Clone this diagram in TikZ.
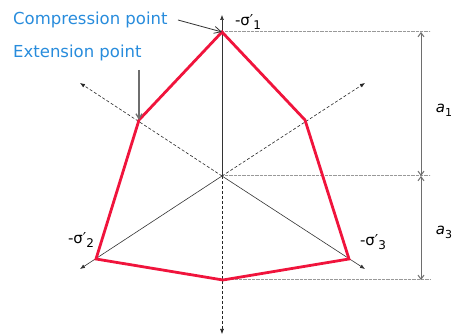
\documentclass[tikz,border=0pt]{standalone}
\usepackage{fontspec}
\setmainfont{DejaVu Sans}
\usetikzlibrary{arrows.meta}
\definecolor{polyred}{RGB}{240,20,60}
\definecolor{callblue}{RGB}{40,140,220}
\definecolor{dimgray}{RGB}{110,110,110}
\begin{document}
\begin{tikzpicture}[x=1pt,y=-1pt,
  polyline/.style={draw=polyred,line width=2.8pt,line join=miter},
  axisline/.style={draw=black!80,line width=0.6pt,-{Latex[length=5pt,width=4pt]}},
  dashaxis/.style={draw=black!85,line width=0.6pt,dashed,dash pattern=on 3pt off 2pt,-{Latex[length=5pt,width=4pt]}},
  dotline/.style={draw=gray!80,line width=1pt,dash pattern=on 0.8pt off 0.5pt},
  dimline/.style={draw=dimgray,line width=1pt,{Straight Barb[length=4pt,width=6pt]}-{Straight Barb[length=4pt,width=6pt]}},
  callarrow/.style={draw=black!80,line width=0.8pt,-{Straight Barb[length=7pt,width=7pt,line width=0.8pt]}},
  extarrow/.style={draw=dimgray,line width=1.3pt,-{Straight Barb[length=5pt,width=6pt]}},
  calltext/.style={text=callblue,font=\fontsize{16.5}{19}\selectfont,anchor=west,inner sep=0pt},
  sigtext/.style={font=\fontsize{15}{17}\selectfont,inner sep=0pt},
  atext/.style={font=\fontsize{15}{17}\selectfont\itshape,inner sep=0pt}]
\useasboundingbox (0,0) rectangle (456,336);
% points
\coordinate (O) at (222,176);
\coordinate (P1) at (222,32);
\coordinate (P2) at (96,259);
\coordinate (P3) at (349,259);
\coordinate (EL) at (139,120);
\coordinate (ER) at (305,120);
\coordinate (EB) at (223,280);
\coordinate (A1) at (222,15);
\coordinate (A2) at (80,269);
\coordinate (A3) at (365,269);
\coordinate (DL) at (80,83);
\coordinate (DR) at (365,83);
\coordinate (DB) at (222,334);
\coordinate (T1) at (430,32);
\coordinate (T2) at (430,176);
\coordinate (T3) at (430,280);
\coordinate (D1) at (421,32);
\coordinate (D2) at (421,176);
\coordinate (D3) at (421,280);
\coordinate (CS) at (178,20);
\coordinate (ES) at (139,70);
% dotted guides
\draw[dotline] (P1) -- (T1);
\draw[dotline] (O) -- (T2);
\draw[dotline] (EB) -- (T3);
% dashed axes
\draw[dashaxis] (O) -- (DL);
\draw[dashaxis] (O) -- (DR);
\draw[dashaxis] (O) -- (DB);
% solid axes
\draw[axisline] (O) -- (A1);
\draw[axisline] (O) -- (A2);
\draw[axisline] (O) -- (A3);
% polygon
\draw[polyline] (P1) -- (ER) -- (P3) -- (EB) -- (P2) -- (EL) -- cycle;
% dimensions
\draw[dimline] (D1) -- (D2);
\draw[dimline] (D2) -- (D3);
% labels
\node[sigtext] (s1) at (248,22) {-σ′\raisebox{-0.5ex}{\fontsize{12}{14}\selectfont 1}};
\node[sigtext] (s2) at (81,240) {-σ′\raisebox{-0.5ex}{\fontsize{12}{14}\selectfont 2}};
\node[sigtext] (s3) at (373,242) {-σ′\raisebox{-0.5ex}{\fontsize{12}{14}\selectfont 3}};
\node[atext] (a1) at (444,110) {a\raisebox{-0.5ex}{\upshape\fontsize{11}{13}\selectfont 1}};
\node[atext] (a3) at (444,232) {a\raisebox{-0.5ex}{\upshape\fontsize{11}{13}\selectfont 3}};
\node[calltext] (cp) at (13,20) {Compression point};
\node[calltext] (ep) at (13,53) {Extension point};
% callouts
\draw[callarrow] (CS) -- (P1);
\draw[extarrow] (ES) -- (EL);
\end{tikzpicture}
\end{document}
